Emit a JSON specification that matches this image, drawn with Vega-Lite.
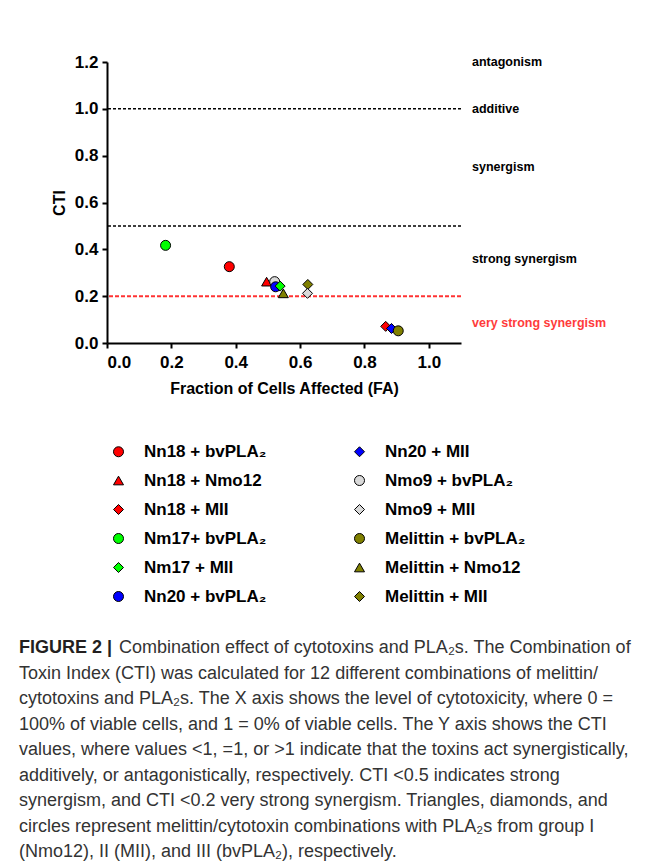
{
  "$schema": "https://vega.github.io/schema/vega-lite/v6.json",
  "width": 354,
  "height": 281,
  "autosize": {"type": "none"},
  "padding": {"left": 107, "top": 62, "right": 190, "bottom": 519},
  "background": "white",
  "config": {
    "view": {"stroke": null},
    "font": "Liberation Sans",
    "axis": {
      "grid": false,
      "domainColor": "black",
      "domainWidth": 2,
      "tickColor": "black",
      "tickWidth": 2,
      "tickSize": 5,
      "labelFont": "Liberation Sans",
      "labelFontSize": 17,
      "labelFontWeight": "bold",
      "labelColor": "black",
      "titleFont": "Liberation Sans",
      "titleFontSize": 16,
      "titleFontWeight": "bold",
      "titleColor": "black"
    }
  },
  "title": {
    "text": "FIGURE 2 |",
    "subtitle": [
      "\u200b\u00a0\u00a0\u00a0\u00a0\u00a0\u00a0\u00a0\u00a0\u00a0\u00a0\u00a0\u00a0\u00a0\u00a0\u00a0\u00a0\u00a0\u00a0\u00a0\u00a0Combination effect of cytotoxins and PLA₂s. The Combination of",
      "Toxin Index (CTI) was calculated for 12 different combinations of melittin/",
      "cytotoxins and PLA₂s. The X axis shows the level of cytotoxicity, where 0 =",
      "100% of viable cells, and 1 = 0% of viable cells. The Y axis shows the CTI",
      "values, where values <1, =1, or >1 indicate that the toxins act synergistically,",
      "additively, or antagonistically, respectively. CTI <0.5 indicates strong",
      "synergism, and CTI <0.2 very strong synergism. Triangles, diamonds, and",
      "circles represent melittin/cytotoxin combinations with PLA₂s from group I",
      "(Nmo12), II (MII), and III (bvPLA₂), respectively."
    ],
    "orient": "bottom",
    "anchor": "start",
    "frame": "group",
    "offset": 34,
    "dx": -88,
    "font": "Liberation Sans",
    "fontSize": 18,
    "fontWeight": "bold",
    "color": "#231f20",
    "subtitleFont": "Liberation Sans",
    "subtitleFontSize": 18,
    "subtitleFontWeight": "normal",
    "subtitleColor": "#333333",
    "subtitleLineHeight": 25.5,
    "subtitlePadding": -18
  },
  "layer": [
    {
      "data": {"values": [{"CTI": 1.0}, {"CTI": 0.5}]},
      "mark": {"type": "rule", "color": "black", "strokeWidth": 1.5, "strokeDash": [3, 2]},
      "encoding": {"y": {"field": "CTI", "type": "quantitative"}}
    },
    {
      "data": {"values": [{"CTI": 0.2}]},
      "mark": {"type": "rule", "color": "#FF3333", "strokeWidth": 2, "strokeDash": [4, 2]},
      "encoding": {"y": {"field": "CTI", "type": "quantitative"}}
    },
    {
      "data": {
        "values": [
          {"label": "antagonism", "CTI": 1.2},
          {"label": "additive", "CTI": 1.0},
          {"label": "synergism", "CTI": 0.75},
          {"label": "strong synergism", "CTI": 0.36},
          {"label": "very strong synergism", "CTI": 0.085}
        ]
      },
      "mark": {"type": "text", "align": "left", "baseline": "middle", "dx": 11, "fontSize": 12.5, "fontWeight": "bold", "font": "Liberation Sans"},
      "encoding": {
        "x": {"datum": 1.1, "type": "quantitative"},
        "y": {"field": "CTI", "type": "quantitative"},
        "text": {"field": "label"},
        "color": {
          "condition": {"test": "datum.label == 'very strong synergism'", "value": "#FF3B3B"},
          "value": "black"
        }
      }
    },
    {
      "data": {
        "values": [
          {"combo": "Nn18 + bvPLA₂", "FA": 0.38, "CTI": 0.326},
          {"combo": "Nn18 + Nmo12", "FA": 0.496, "CTI": 0.262},
          {"combo": "Nn18 + MII", "FA": 0.866, "CTI": 0.071},
          {"combo": "Nm17+ bvPLA₂", "FA": 0.182, "CTI": 0.417},
          {"combo": "Nmo9 + bvPLA₂", "FA": 0.521, "CTI": 0.262},
          {"combo": "Nn20 + bvPLA₂", "FA": 0.524, "CTI": 0.24},
          {"combo": "Nm17 + MII", "FA": 0.538, "CTI": 0.243},
          {"combo": "Nn20 + MII", "FA": 0.884, "CTI": 0.062},
          {"combo": "Melittin + MII", "FA": 0.624, "CTI": 0.25},
          {"combo": "Nmo9 + MII", "FA": 0.623, "CTI": 0.212},
          {"combo": "Melittin + bvPLA₂", "FA": 0.905, "CTI": 0.052},
          {"combo": "Melittin + Nmo12", "FA": 0.548, "CTI": 0.212}
        ]
      },
      "mark": {"type": "point", "filled": true, "stroke": "black", "strokeWidth": 1, "size": 100, "opacity": 1},
      "encoding": {
        "x": {
          "field": "FA",
          "type": "quantitative",
          "scale": {"domain": [0, 1.1], "nice": false, "zero": true},
          "axis": {
            "values": [0, 0.2, 0.4, 0.6, 0.8, 1.0],
            "format": ".1f",
            "labelPadding": 6,
            "titlePadding": 10,
            "title": "Fraction of Cells Affected (FA)"
          }
        },
        "y": {
          "field": "CTI",
          "type": "quantitative",
          "scale": {"domain": [0, 1.2], "nice": false},
          "axis": {
            "values": [0, 0.1, 0.2, 0.3, 0.4, 0.5, 0.6, 0.7, 0.8, 0.9, 1.0, 1.1, 1.2],
            "labelExpr": "round(datum.value * 10) % 2 == 0 ? format(datum.value, '.1f') : ''",
            "labelPadding": 4,
            "titlePadding": 7,
            "title": "CTI"
          }
        },
        "color": {
          "field": "combo",
          "type": "nominal",
          "scale": {
            "domain": ["Nn18 + bvPLA₂", "Nn18 + Nmo12", "Nn18 + MII", "Nm17+ bvPLA₂", "Nm17 + MII", "Nn20 + bvPLA₂", "Nn20 + MII", "Nmo9 + bvPLA₂", "Nmo9 + MII", "Melittin + bvPLA₂", "Melittin + Nmo12", "Melittin + MII"],
            "range": ["#FF0000", "#FF0000", "#FF0000", "#00FF00", "#00FF00", "#0000FF", "#0000FF", "#D9D9D9", "#D9D9D9", "#808000", "#808000", "#808000"]
          },
          "legend": {
            "orient": "none",
            "legendX": 3,
            "legendY": 381,
            "columns": 2,
            "title": null,
            "labelFont": "Liberation Sans",
            "labelFontSize": 17,
            "labelFontWeight": "bold",
            "labelColor": "black",
            "symbolSize": 100,
            "symbolStrokeColor": "black",
            "symbolStrokeWidth": 1,
            "symbolOpacity": 1,
            "labelOffset": 17,
            "rowPadding": 11,
            "columnPadding": 84
          }
        },
        "shape": {
          "field": "combo",
          "type": "nominal",
          "scale": {
            "domain": ["Nn18 + bvPLA₂", "Nn18 + Nmo12", "Nn18 + MII", "Nm17+ bvPLA₂", "Nm17 + MII", "Nn20 + bvPLA₂", "Nn20 + MII", "Nmo9 + bvPLA₂", "Nmo9 + MII", "Melittin + bvPLA₂", "Melittin + Nmo12", "Melittin + MII"],
            "range": ["circle", "triangle-up", "diamond", "circle", "diamond", "circle", "diamond", "circle", "diamond", "circle", "triangle-up", "diamond"]
          }
        }
      }
    }
  ]
}
